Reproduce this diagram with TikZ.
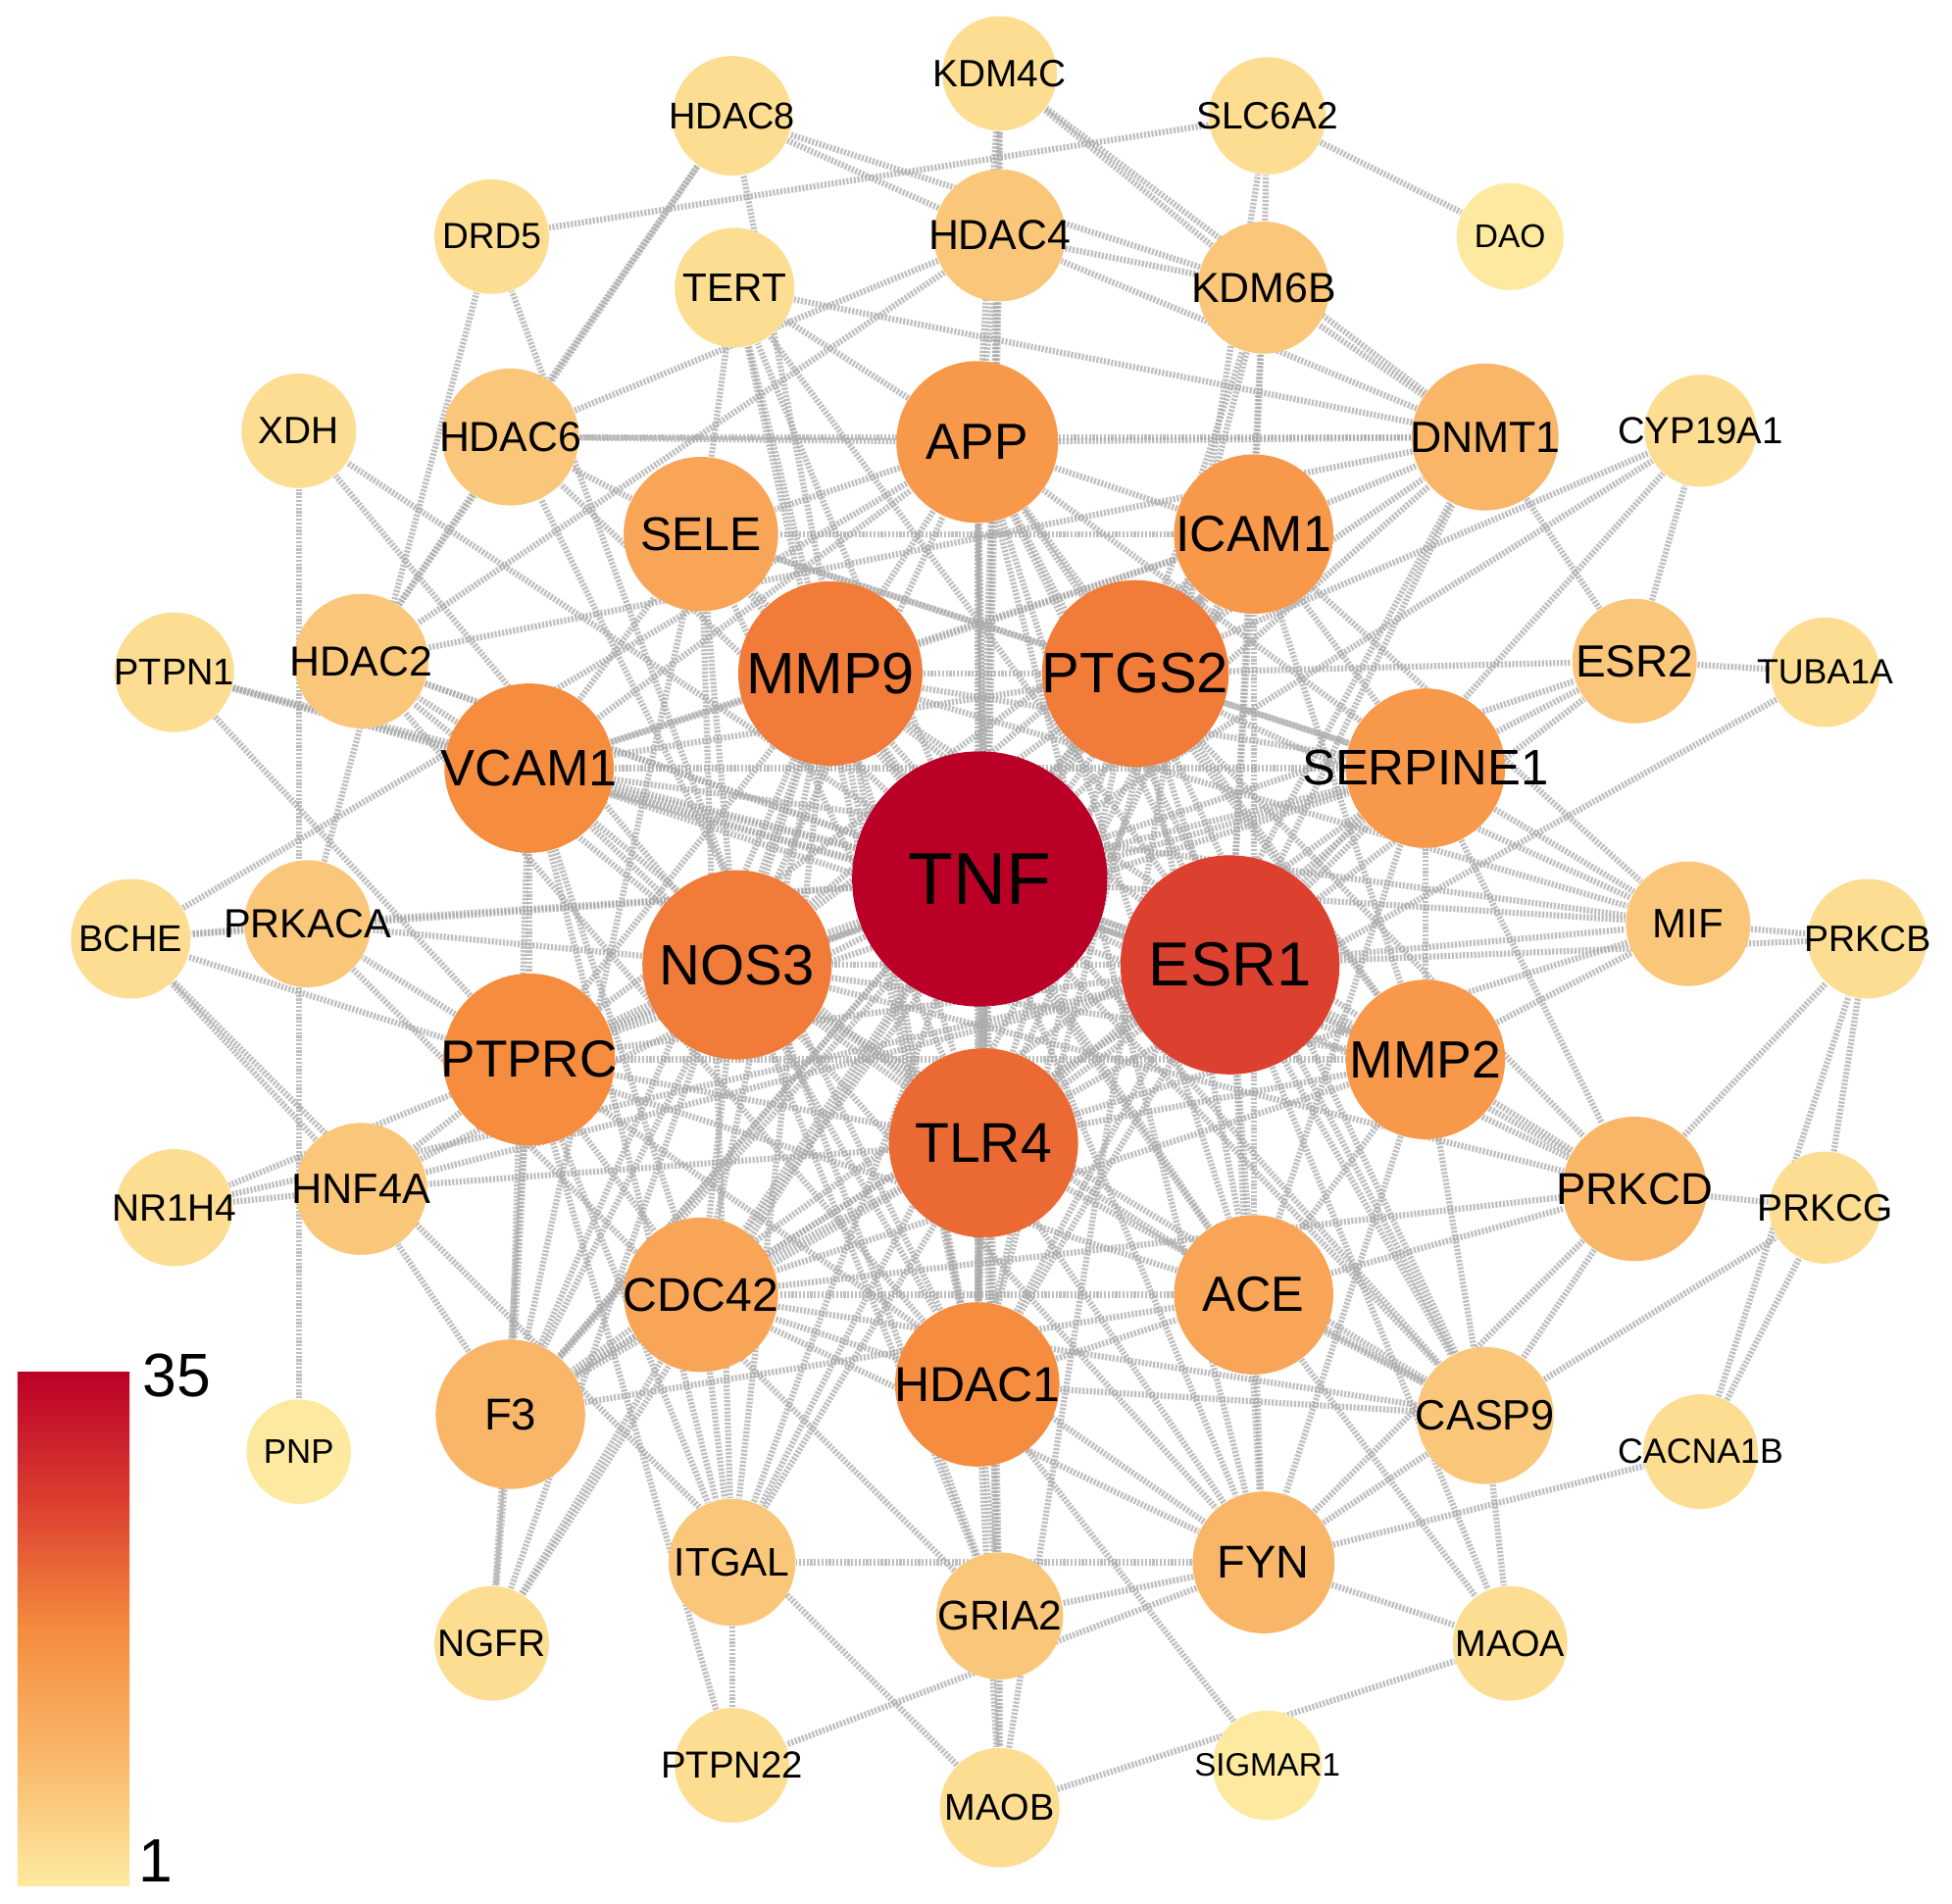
\documentclass[tikz,border=0pt]{standalone}
\usepackage{fontspec}
\setmainfont{Liberation Sans}
\usetikzlibrary{backgrounds}

\definecolor{lv1}{RGB}{253,234,160}
\definecolor{lv2}{RGB}{252,221,146}
\definecolor{lv3}{RGB}{250,199,122}
\definecolor{lv4}{RGB}{249,182,105}
\definecolor{lv5}{RGB}{248,165,88}
\definecolor{lv6}{RGB}{247,152,74}
\definecolor{lv7}{RGB}{245,140,62}
\definecolor{lv8}{RGB}{241,123,56}
\definecolor{lv9}{RGB}{235,106,52}
\definecolor{lv10}{RGB}{220,65,48}
\definecolor{lv11}{RGB}{187,0,40}
\definecolor{edgegray}{RGB}{170,170,170}

\pgfdeclareverticalshading{degreebar}{100bp}{color(0bp)=(lv1); color(25bp)=(lv1); color(38bp)=(lv4); color(50bp)=(lv7); color(62bp)=(lv10); color(75bp)=(lv11); color(100bp)=(lv11)}

\newcommand{\fsz}[1]{\fontsize{#1}{#1}\selectfont}
% label that does not widen its circle
\newcommand{\gl}[1]{\makebox[0pt]{#1}}

\begin{document}
\begin{tikzpicture}
    \tikzstyle{gene}=[circle, inner sep=0pt, text=black]
    \tikzstyle{link}=[draw=edgegray, line width=1.4pt, dash pattern=on 0.5pt off 0.35pt, draw opacity=0.75]
    \useasboundingbox (0,0) rectangle (15.68,-15.29);

    % hub and first ring
    \node[gene, minimum size=2.05cm, fill=lv11, font=\fsz{16.8}] (tnf) at (7.87,-7.06) {\gl{TNF}};
    \node[gene, minimum size=1.76cm, fill=lv10, font=\fsz{14.2}] (esr1) at (9.88,-7.75) {\gl{ESR1}};
    \node[gene, minimum size=1.48cm, fill=lv8, font=\fsz{13.3}] (mmp9) at (6.67,-5.41) {\gl{MMP9}};
    \node[gene, minimum size=1.50cm, fill=lv8, font=\fsz{13}] (ptgs2) at (9.12,-5.41) {\gl{PTGS2}};
    \node[gene, minimum size=1.52cm, fill=lv9, font=\fsz{12.8}] (tlr4) at (7.90,-9.18) {\gl{TLR4}};
    \node[gene, minimum size=1.52cm, fill=lv8, font=\fsz{13}] (nos3) at (5.92,-7.75) {\gl{NOS3}};
    \node[gene, minimum size=1.36cm, fill=lv7, font=\fsz{11.7}] (vcam1) at (4.25,-6.17) {\gl{VCAM1}};
    \node[gene, minimum size=1.28cm, fill=lv6, font=\fsz{11.4}] (serpine1) at (11.45,-6.17) {\gl{SERPINE1}};
    \node[gene, minimum size=1.38cm, fill=lv7, font=\fsz{11.9}] (ptprc) at (4.25,-8.51) {\gl{PTPRC}};
    \node[gene, minimum size=1.28cm, fill=lv6, font=\fsz{12}] (mmp2) at (11.45,-8.51) {\gl{MMP2}};

    % second ring
    \node[gene, minimum size=1.28cm, fill=lv6, font=\fsz{11.6}] (icam1) at (10.07,-4.29) {\gl{ICAM1}};
    \node[gene, minimum size=1.30cm, fill=lv6, font=\fsz{11.6}] (app) at (7.85,-3.55) {\gl{APP}};
    \node[gene, minimum size=1.24cm, fill=lv5, font=\fsz{10.8}] (sele) at (5.63,-4.29) {\gl{SELE}};
    \node[gene, minimum size=1.18cm, fill=lv4, font=\fsz{10}] (dnmt1) at (11.93,-3.51) {\gl{DNMT1}};
    \node[gene, minimum size=1.24cm, fill=lv5, font=\fsz{10.8}] (cdc42) at (5.63,-10.40) {\gl{CDC42}};
    \node[gene, minimum size=1.28cm, fill=lv5, font=\fsz{11.3}] (ace) at (10.07,-10.40) {\gl{ACE}};
    \node[gene, minimum size=1.32cm, fill=lv7, font=\fsz{11.2}] (hdac1) at (7.85,-11.12) {\gl{HDAC1}};
    \node[gene, minimum size=1.20cm, fill=lv4, font=\fsz{10.2}] (f3) at (4.10,-11.36) {\gl{F3}};
    \node[gene, minimum size=1.14cm, fill=lv4, font=\fsz{10.5}] (fyn) at (10.15,-12.55) {\gl{FYN}};
    \node[gene, minimum size=1.16cm, fill=lv4, font=\fsz{10.2}] (prkcd) at (13.13,-9.55) {\gl{PRKCD}};
    \node[gene, minimum size=1.10cm, fill=lv3, font=\fsz{9.7}] (casp9) at (11.93,-11.37) {\gl{CASP9}};
    \node[gene, minimum size=1.02cm, fill=lv3, font=\fsz{9.5}] (gria2) at (8.03,-12.98) {\gl{GRIA2}};
    \node[gene, minimum size=1.02cm, fill=lv3, font=\fsz{9.1}] (itgal) at (5.88,-12.55) {\gl{ITGAL}};
    \node[gene, minimum size=1.06cm, fill=lv3, font=\fsz{9.6}] (hdac4) at (8.03,-1.89) {\gl{HDAC4}};
    \node[gene, minimum size=1.06cm, fill=lv3, font=\fsz{9.6}] (kdm6b) at (10.15,-2.31) {\gl{KDM6B}};
    \node[gene, minimum size=1.10cm, fill=lv3, font=\fsz{9.6}] (hdac6) at (4.10,-3.51) {\gl{HDAC6}};
    \node[gene, minimum size=1.08cm, fill=lv3, font=\fsz{9.6}] (hdac2) at (2.90,-5.31) {\gl{HDAC2}};
    \node[gene, minimum size=1.02cm, fill=lv3, font=\fsz{9.3}] (prkaca) at (2.47,-7.42) {\gl{PRKACA}};
    \node[gene, minimum size=1.06cm, fill=lv3, font=\fsz{9.7}] (hnf4a) at (2.90,-9.55) {\gl{HNF4A}};
    \node[gene, minimum size=1.00cm, fill=lv3, font=\fsz{10.3}] (esr2) at (13.13,-5.31) {\gl{ESR2}};
    \node[gene, minimum size=1.00cm, fill=lv3, font=\fsz{9.4}] (mif) at (13.56,-7.42) {\gl{MIF}};

    % outer ring
    \node[gene, minimum size=0.96cm, fill=lv2, font=\fsz{9.1}] (tert) at (5.90,-2.31) {\gl{TERT}};
    \node[gene, minimum size=0.96cm, fill=lv2, font=\fsz{8.5}] (hdac8) at (5.88,-0.93) {\gl{HDAC8}};
    \node[gene, minimum size=0.92cm, fill=lv2, font=\fsz{8.7}] (kdm4c) at (8.03,-0.59) {\gl{KDM4C}};
    \node[gene, minimum size=0.94cm, fill=lv2, font=\fsz{8.7}] (slc6a2) at (10.18,-0.93) {\gl{SLC6A2}};
    \node[gene, minimum size=0.86cm, fill=lv1, font=\fsz{7.5}] (dao) at (12.13,-1.90) {\gl{DAO}};
    \node[gene, minimum size=0.92cm, fill=lv2, font=\fsz{8.3}] (drd5) at (3.95,-1.90) {\gl{DRD5}};
    \node[gene, minimum size=0.92cm, fill=lv2, font=\fsz{8.7}] (xdh) at (2.40,-3.46) {\gl{XDH}};
    \node[gene, minimum size=0.90cm, fill=lv2, font=\fsz{8.6}] (cyp19a1) at (13.66,-3.46) {\gl{CYP19A1}};
    \node[gene, minimum size=0.96cm, fill=lv2, font=\fsz{8.5}] (ptpn1) at (1.40,-5.40) {\gl{PTPN1}};
    \node[gene, minimum size=0.88cm, fill=lv2, font=\fsz{8}] (tuba1a) at (14.66,-5.40) {\gl{TUBA1A}};
    \node[gene, minimum size=0.96cm, fill=lv2, font=\fsz{8.5}] (bche) at (1.05,-7.54) {\gl{BCHE}};
    \node[gene, minimum size=0.96cm, fill=lv2, font=\fsz{8.4}] (prkcb) at (15.00,-7.54) {\gl{PRKCB}};
    \node[gene, minimum size=0.94cm, fill=lv2, font=\fsz{8.7}] (nr1h4) at (1.40,-9.70) {\gl{NR1H4}};
    \node[gene, minimum size=0.90cm, fill=lv2, font=\fsz{8.7}] (prkcg) at (14.66,-9.70) {\gl{PRKCG}};
    \node[gene, minimum size=0.84cm, fill=lv1, font=\fsz{7.8}] (pnp) at (2.40,-11.66) {\gl{PNP}};
    \node[gene, minimum size=0.92cm, fill=lv2, font=\fsz{8}] (cacna1b) at (13.66,-11.66) {\gl{CACNA1B}};
    \node[gene, minimum size=0.92cm, fill=lv2, font=\fsz{8.7}] (ngfr) at (3.95,-13.20) {\gl{NGFR}};
    \node[gene, minimum size=0.92cm, fill=lv2, font=\fsz{8.5}] (maoa) at (12.13,-13.20) {\gl{MAOA}};
    \node[gene, minimum size=0.92cm, fill=lv2, font=\fsz{8.6}] (ptpn22) at (5.88,-14.18) {\gl{PTPN22}};
    \node[gene, minimum size=0.88cm, fill=lv1, font=\fsz{7.4}] (sigmar1) at (10.18,-14.18) {\gl{SIGMAR1}};
    \node[gene, minimum size=0.96cm, fill=lv2, font=\fsz{8.5}] (maob) at (8.03,-14.52) {\gl{MAOB}};

    % interactions
    \begin{pgfonlayer}{background}
    \foreach \b in {esr1,mmp9,ptgs2,tlr4,nos3,vcam1,ptprc,hdac1,serpine1,mmp2,icam1,app,ace,cdc42,sele,f3,fyn,dnmt1,prkcd,casp9,itgal,mif,hdac2,hdac6,prkaca,hnf4a,esr2,tert,xdh,ptpn1,bche,nr1h4,ngfr,cyp19a1,hdac4}
        \draw[link] (tnf) -- (\b);
    \foreach \b in {mmp9,ptgs2,tlr4,nos3,vcam1,ptprc,hdac1,serpine1,mmp2,icam1,app,ace,cdc42,f3,fyn,dnmt1,prkcd,casp9,mif,hdac2,hnf4a,esr2,tert,ptpn1,nr1h4,cyp19a1,prkcb,maoa,kdm6b}
        \draw[link] (esr1) -- (\b);
    \foreach \b in {ptgs2,tlr4,nos3,vcam1,ptprc,icam1,serpine1,mmp2,app,sele,cdc42,hdac1,ace,f3,mif,casp9,itgal,tert,ngfr}
        \draw[link] (mmp9) -- (\b);
    \foreach \b in {tlr4,nos3,vcam1,icam1,serpine1,mmp2,app,sele,hdac1,ace,f3,mif,casp9,dnmt1,esr2,cyp19a1,prkcd,kdm6b}
        \draw[link] (ptgs2) -- (\b);
    \foreach \b in {nos3,vcam1,ptprc,icam1,serpine1,mmp2,hdac1,cdc42,fyn,f3,sele,mif,casp9,tuba1a,itgal,gria2,hnf4a}
        \draw[link] (tlr4) -- (\b);
    \foreach \b in {vcam1,icam1,ptprc,serpine1,mmp2,app,sele,ace,hdac1,cdc42,f3,prkaca,xdh,hdac2,gria2,casp9,prkcd,fyn}
        \draw[link] (nos3) -- (\b);
    \foreach \b in {icam1,sele,ptprc,serpine1,mmp2,itgal,f3,cdc42,hdac2,ptpn1,app,mif}
        \draw[link] (vcam1) -- (\b);
    \foreach \b in {icam1,cdc42,fyn,itgal,hnf4a,ptpn1,ptpn22,prkaca,ngfr,f3,mmp2,serpine1}
        \draw[link] (ptprc) -- (\b);
    \foreach \b in {hdac2,hdac4,hdac6,hdac8,dnmt1,kdm6b,kdm4c,tert,app,casp9,gria2,maob,sigmar1,cdc42,ace}
        \draw[link] (hdac1) -- (\b);
    \foreach \a/\b in {serpine1/icam1,serpine1/mmp2,serpine1/app,serpine1/sele,serpine1/ace,serpine1/f3,serpine1/mif,serpine1/esr2,serpine1/prkcd,
        mmp2/icam1,mmp2/app,mmp2/ace,mmp2/casp9,mmp2/prkcd,mmp2/mif,mmp2/fyn,mmp2/cdc42,
        icam1/app,icam1/sele,icam1/itgal,icam1/ace,icam1/f3,icam1/kdm6b,icam1/dnmt1,icam1/mif,icam1/cdc42,
        app/ace,app/hdac4,app/hdac6,app/kdm4c,app/dnmt1,app/gria2,app/maob,app/bche,app/sele,app/tert,app/casp9,app/fyn,
        ace/casp9,ace/fyn,ace/f3,ace/maoa,ace/bche,ace/prkcd,ace/cdc42,
        cdc42/f3,cdc42/itgal,cdc42/fyn,cdc42/prkcd,cdc42/ngfr,cdc42/casp9,
        sele/itgal,sele/f3,sele/hdac6,sele/tert,f3/ngfr,f3/hnf4a,
        fyn/itgal,fyn/gria2,fyn/ptpn22,fyn/prkcd,fyn/casp9,fyn/cacna1b,fyn/maoa,
        dnmt1/kdm6b,dnmt1/hdac4,dnmt1/hdac6,dnmt1/esr2,dnmt1/tert,dnmt1/hdac2,dnmt1/kdm4c,
        prkcd/prkcg,prkcd/prkcb,prkcd/casp9,casp9/maoa,casp9/prkcg,
        gria2/maob,gria2/drd5,gria2/prkaca,itgal/ptpn22,
        hdac4/hdac8,hdac4/kdm4c,hdac4/kdm6b,hdac4/hdac6,hdac4/hdac2,
        kdm6b/hdac8,kdm6b/kdm4c,kdm6b/slc6a2,hdac6/hdac8,hdac6/hdac2,hdac2/hdac8,
        prkaca/bche,prkaca/drd5,hnf4a/nr1h4,hnf4a/bche,esr2/cyp19a1,esr2/tuba1a,
        mif/prkcb,slc6a2/dao,slc6a2/drd5,xdh/pnp,maob/maoa,maob/slc6a2,maob/bche,
        cacna1b/prkcb,cacna1b/prkcg,prkcb/prkcg}
        \draw[link] (\a) -- (\b);
    \end{pgfonlayer}

    % colour scale
    \shade[shading=degreebar] (0.14,-11.02) rectangle (1.04,-15.15);
    \node[font=\fsz{14}] (scalemax) at (1.42,-11.05) {35};
    \node[font=\fsz{14}] (scalemin) at (1.25,-14.95) {1};
\end{tikzpicture}
\end{document}
